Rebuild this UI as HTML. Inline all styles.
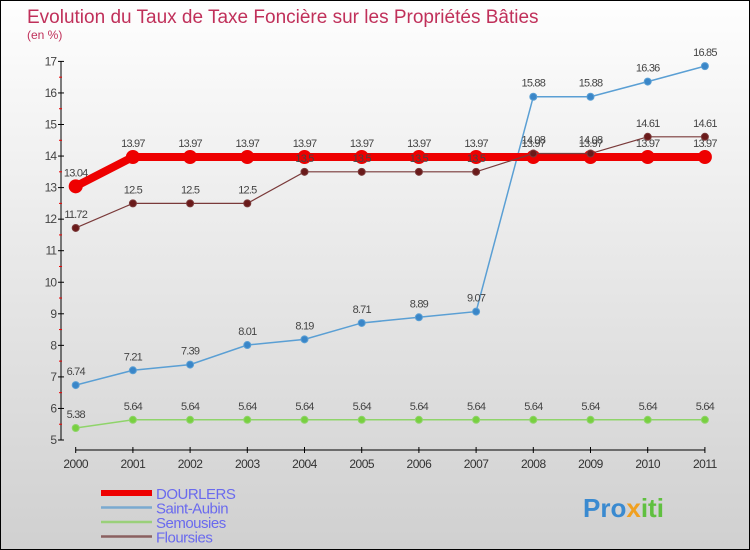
<!DOCTYPE html>
<html><head><meta charset="utf-8"><style>
body{margin:0}
#c{width:748px;height:548px;border:1px solid #000;background:linear-gradient(#fefefe,#d0d0d0);position:relative;overflow:hidden;font-family:"Liberation Sans",sans-serif}
</style></head><body>
<div id="c">
<svg id="s" width="748" height="548"></svg>
</div>
<script>
const years=["2000","2001","2002","2003","2004","2005","2006","2007","2008","2009","2010","2011"];
const yTicks=[5,6,7,8,9,10,11,12,13,14,15,16,17];
const dourlers=[13.04,13.97,13.97,13.97,13.97,13.97,13.97,13.97,13.97,13.97,13.97,13.97];
const saintAubin=[6.74,7.21,7.39,8.01,8.19,8.71,8.89,9.07,15.88,15.88,16.36,16.85];
const semousies=[5.38,5.64,5.64,5.64,5.64,5.64,5.64,5.64,5.64,5.64,5.64,5.64];
const floursies=[11.72,12.5,12.5,12.5,13.5,13.5,13.5,13.5,14.08,14.08,14.61,14.61];
const s=document.getElementById('s');const NS="http://www.w3.org/2000/svg";
function X(i){return 74.7+i*57.2;}
function Y(v){return 439-(v-5)*31.55;}
function mk(t,a,name,par){const e=document.createElementNS(NS,t);for(const k in a)e.setAttribute(k,a[k]);


(par||s).appendChild(e);return e;}
function txt(x,y,str,a,name){const e=mk('text',Object.assign({x:x,y:y},a),name);e.textContent=str;return e;}
txt(26,22,"Evolution du Taux de Taxe Foncière sur les Propriétés Bâties",{fill:"#c0305a","font-size":19},"chart-title");
txt(26,38,"(en %)",{fill:"#c0305a","font-size":12},"chart-subtitle");
mk('line',{x1:60,y1:Y(17),x2:60,y2:Y(5),stroke:"#000"},"y-axis");
yTicks.forEach(v=>{mk('line',{x1:57,y1:Y(v),x2:63,y2:Y(v),stroke:"#000"},"y-tick");
if(v<17)mk('line',{x1:58,y1:Y(v+0.5),x2:61,y2:Y(v+0.5),stroke:"#e00"},"y-minor-tick");
txt(55,Y(v)+4,String(v),{fill:"#444","font-size":12,"text-anchor":"end","letter-spacing":"-1"},"y-tick-label");});
mk('line',{x1:X(0),y1:449,x2:X(11),y2:449,stroke:"#000"},"x-axis");
years.forEach((y,i)=>{mk('line',{x1:X(i),y1:446,x2:X(i),y2:452,stroke:"#000"},"x-tick");
txt(X(i),467,y,{fill:"#333","font-size":12,"text-anchor":"middle","letter-spacing":"-0.5"},"x-tick-label");});
function series(d,col,w,r,fill,name){
mk('polyline',{points:d.map((v,i)=>X(i)+","+Y(v)).join(" "),fill:"none",stroke:col,"stroke-width":w},name+"-line");
d.forEach((v,i)=>{mk('circle',{cx:X(i),cy:Y(v),r:r,fill:fill,stroke:col,"stroke-width":1},name+"-point");
txt(X(i),Y(v)-10,String(v),{fill:"#444","font-size":11,"text-anchor":"middle","letter-spacing":"-0.8"},name+"-value-label");});}
series(saintAubin,"#5a9fd4",1.5,3.5,"#3a86c8","saint-aubin");
series(semousies,"#8fd46a",1.5,3.5,"#78d040","semousies");
series(dourlers,"#ee0000",8,6.5,"#ee0000","dourlers");
series(floursies,"#7a3a3a",1.2,3.5,"#6a1a1a","floursies");
const leg=[["DOURLERS","#ee0000",6],["Saint-Aubin","#7aaad0",2.5],["Semousies","#9ad07a",2.5],["Floursies","#8a6060",2.5]];
leg.forEach((l,i)=>{const y=492+i*14.5;
mk('line',{x1:100,y1:y,x2:151,y2:y,stroke:l[1],"stroke-width":l[2]},"legend-swatch");
txt(155,y+6,l[0],{fill:"#6a6aee","font-size":15,"letter-spacing":"-0.5"},"legend-entry");});
const lg=txt(582,516,"",{"font-size":26,"font-weight":"bold"},"proxiti-logo");
[["Pro","#3a8ad0"],["x","#f0a020"],["iti","#60c040"]].forEach(p=>{const t=document.createElementNS(NS,'tspan');t.setAttribute('fill',p[1]);t.textContent=p[0];lg.appendChild(t);});
</script></body></html>
